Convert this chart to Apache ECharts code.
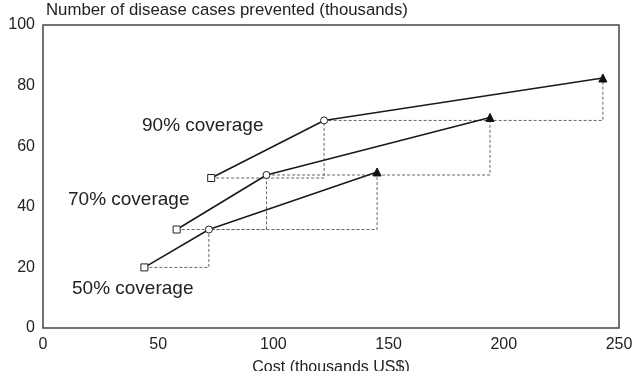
<!DOCTYPE html>
<html>
<head>
<meta charset="utf-8">
<script src="https://cdn.jsdelivr.net/npm/echarts@6/dist/echarts.min.js"></script>
<style>
  html, body { margin: 0; padding: 0; background: #fff; }
  #chart { width: 635px; height: 371px; }
</style>
</head>
<body>
<div id="chart"></div>
<script>
// cost (thousands US$) and cases prevented (thousands) per coverage level
const cost90 = [73, 122, 243];
const cases90 = [49.5, 68.5, 82.5];
const cost70 = [58, 97, 194];
const cases70 = [32.5, 50.5, 69.5];
const cost50 = [44, 72, 145];
const cases50 = [20, 32.5, 51.5];
const pointSymbols = ['rect', 'circle', 'triangle'];
const xTicks = [0, 50, 100, 150, 200, 250];
const yTicks = [0, 20, 40, 60, 80, 100];

const font = 'Liberation Sans, Arial, sans-serif';

function pairs (xs, ys) {
  return xs.map((x, i) => [x, ys[i]]);
}

function solidSeries (xs, ys) {
  return {
    type: 'line',
    data: pairs(xs, ys).map((p, i) => ({
      value: p,
      symbol: pointSymbols[i],
      symbolSize: i === 2 ? 8 : 7,
      itemStyle: i === 2
        ? {color: '#111', borderColor: '#111'}
        : {color: '#fff', borderColor: '#222', borderWidth: 1}
    })),
    lineStyle: {color: '#1a1a1a', width: 1.6},
    z: 3,
    silent: true
  };
}

function stepSeries (xs, ys) {
  return {
    type: 'line',
    step: 'end',
    data: pairs(xs, ys),
    showSymbol: false,
    lineStyle: {color: '#666', width: 1, type: [3, 2]},
    z: 2,
    silent: true
  };
}

const option = {
  animation: false,
  backgroundColor: '#fff',
  grid: {
    left: 43, right: 16, top: 25, bottom: 43,
    outerBoundsMode: 'none',
    show: true, borderColor: '#444', borderWidth: 1.5
  },
  xAxis: {
    type: 'value',
    min: 0, max: 250, interval: 50,
    name: 'Cost (thousands US$)',
    nameLocation: 'middle',
    nameGap: 32,
    nameMoveOverlap: false,
    nameTextStyle: {color: '#222', fontSize: 16, fontFamily: font},
    axisLine: {show: false},
    axisTick: {show: false},
    splitLine: {show: false},
    axisLabel: {
      color: '#222', fontSize: 16, fontFamily: font, margin: 9,
      formatter: v => xTicks.includes(v) ? String(v) : ''
    }
  },
  yAxis: {
    type: 'value',
    min: 0, max: 100, interval: 20,
    name: 'Number of disease cases prevented (thousands)',
    nameLocation: 'end',
    nameGap: 6,
    nameTextStyle: {
      color: '#222', fontSize: 16.8, fontFamily: font,
      align: 'left', verticalAlign: 'bottom', padding: [0, 0, 0, 3]
    },
    axisLine: {show: false},
    axisTick: {show: false},
    splitLine: {show: false},
    axisLabel: {
      color: '#222', fontSize: 16, fontFamily: font, margin: 8,
      formatter: v => yTicks.includes(v) ? String(v) : ''
    }
  },
  graphic: [
    {type: 'text', left: 142, top: 116, style: {text: '90% coverage', fill: '#222', font: '19px ' + font}},
    {type: 'text', left: 68, top: 190, style: {text: '70% coverage', fill: '#222', font: '19px ' + font}},
    {type: 'text', left: 72, top: 279, style: {text: '50% coverage', fill: '#222', font: '19px ' + font}}
  ],
  series: [
    stepSeries(cost90, cases90),
    stepSeries(cost70, cases70),
    stepSeries(cost50, cases50),
    solidSeries(cost90, cases90),
    solidSeries(cost70, cases70),
    solidSeries(cost50, cases50)
  ]
};

const myChart = echarts.init(document.getElementById('chart'));
myChart.setOption(option);
</script>
</body>
</html>
